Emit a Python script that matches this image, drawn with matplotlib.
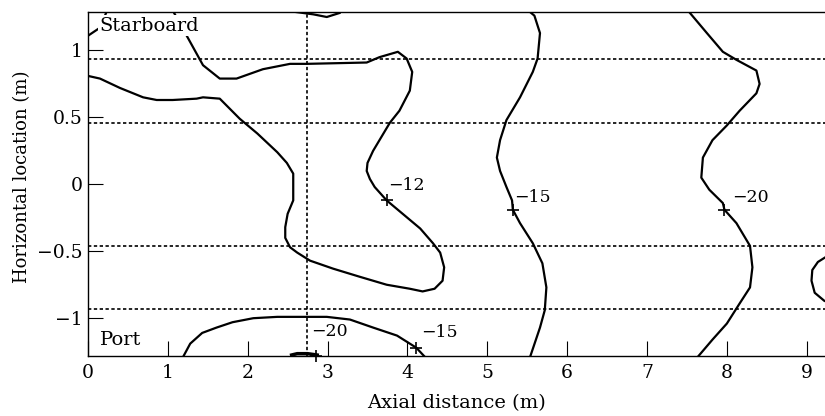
import matplotlib
matplotlib.use("Agg")
import matplotlib.pyplot as plt

plt.rcParams['font.family'] = ['DejaVu Serif']
plt.rcParams['axes.unicode_minus'] = True

# contour polylines (axial distance m, horizontal location m)
c12_x = [0.00, 0.15, 0.40, 0.69, 0.86, 1.06, 1.36, 1.44, 1.65, 1.90, 2.12, 2.37, 2.49, 2.57,
         2.57, 2.50, 2.47, 2.47, 2.53, 2.62, 2.78, 3.07, 3.40, 3.74, 4.03, 4.19, 4.34, 4.44,
         4.46, 4.41, 4.32, 4.16, 3.94, 3.74, 3.59, 3.53, 3.49, 3.50, 3.57, 3.65, 3.78, 3.90,
         4.03, 4.06, 3.99, 3.88, 3.65, 3.49, 2.74, 2.53, 2.19, 1.86, 1.65, 1.44, 1.06]
c12_y = [0.81, 0.79, 0.72, 0.65, 0.63, 0.63, 0.64, 0.65, 0.64, 0.49, 0.38, 0.24, 0.16, 0.08,
         -0.12, -0.22, -0.32, -0.40, -0.47, -0.51, -0.57, -0.63, -0.69, -0.75, -0.78, -0.80, -0.78, -0.72,
         -0.62, -0.51, -0.44, -0.33, -0.22, -0.12, -0.02, 0.04, 0.10, 0.16, 0.25, 0.33, 0.46, 0.55,
         0.70, 0.84, 0.94, 0.99, 0.95, 0.91, 0.90, 0.90, 0.86, 0.79, 0.79, 0.89, 1.30]

c15_x = [5.51, 5.59, 5.66, 5.63, 5.57, 5.41, 5.24, 5.16, 5.12, 5.16, 5.24, 5.31, 5.32, 5.41,
         5.57, 5.69, 5.74, 5.72, 5.66, 5.53]
c15_y = [1.30, 1.26, 1.13, 0.94, 0.84, 0.65, 0.48, 0.33, 0.20, 0.10, -0.02, -0.12, -0.19, -0.29,
         -0.44, -0.59, -0.77, -0.94, -1.07, -1.30]

c20_x = [7.51, 7.75, 7.95, 8.12, 8.37, 8.41, 8.37, 8.16, 8.00, 7.82, 7.70, 7.68, 7.78, 7.95,
         7.97, 8.12, 8.29, 8.32, 8.29, 8.16, 8.00, 7.82, 7.62]
c20_y = [1.30, 1.13, 0.99, 0.93, 0.85, 0.75, 0.68, 0.55, 0.44, 0.33, 0.20, 0.05, -0.04, -0.14,
         -0.19, -0.29, -0.46, -0.62, -0.77, -0.89, -1.04, -1.16, -1.30]

corner_x = [0.00, 0.15, 0.24]
corner_y = [1.11, 1.17, 1.30]

bump_x = [2.57, 2.82, 2.99, 3.15]
bump_y = [1.29, 1.27, 1.25, 1.28]

loop_x = [9.30, 9.22, 9.14, 9.07, 9.06, 9.10, 9.22, 9.30]
loop_y = [-0.52, -0.55, -0.58, -0.64, -0.72, -0.81, -0.87, -0.89]

arc_x = [1.19, 1.28, 1.43, 1.61, 1.81, 2.07, 2.37, 2.69, 2.99, 3.28, 3.57, 3.87, 4.11, 4.22]
arc_y = [-1.29, -1.19, -1.11, -1.07, -1.03, -1.00, -0.99, -0.99, -0.99, -1.01, -1.07, -1.13, -1.22, -1.29]

spot_x = [2.55, 2.62, 2.75, 2.87]
spot_y = [-1.275, -1.265, -1.265, -1.275]

# contour labels: marker position, label position, text
mark_x = [3.74, 5.32, 7.97, 2.85, 4.11]
mark_y = [-0.12, -0.19, -0.19, -1.28, -1.22]
lab_x = [3.76, 5.34, 8.07, 2.80, 4.17]
lab_y = [-0.01, -0.10, -0.10, -1.10, -1.11]
lab_txt = ['\u221212', '\u221215', '\u221220', '\u221220', '\u221215']

# dotted reference lines
hlines = [0.94, 0.46, -0.46, -0.935]
vline = 2.74

fig = plt.figure(figsize=(8.25, 4.16), dpi=100)
ax = fig.add_axes([88 / 825, 0.145, 1 - 88 / 825, 0.827])

for xs, ys in [(c12_x, c12_y), (c15_x, c15_y), (c20_x, c20_y), (corner_x, corner_y),
               (bump_x, bump_y), (loop_x, loop_y), (arc_x, arc_y)]:
    ax.plot(xs, ys, color='black', lw=1.6, solid_joinstyle='round')
ax.plot(spot_x, spot_y, color='black', lw=2.5)

for h in hlines:
    ax.axhline(h, color='black', lw=1.2, linestyle=(0, (2, 1.5)))
ax.axvline(vline, color='black', lw=1.2, linestyle=(0, (2, 1.5)))

ax.plot(mark_x, mark_y, '+', color='black', ms=9, mew=1.2, clip_on=False)
for x, y, t in zip(lab_x, lab_y, lab_txt):
    ax.text(x, y, t, fontsize=12.5, ha='left', va='center')

ax.text(0.14, 1.185, 'Starboard', fontsize=14, ha='left', va='center',
        bbox=dict(facecolor='white', edgecolor='none', pad=1))
ax.text(0.15, -1.16, 'Port', fontsize=14, ha='left', va='center')

ax.set_xlim(0, 9.229)
ax.set_ylim(-1.28, 1.29)
ax.set_xticks(range(10))
ax.set_yticks([-1, -0.5, 0, 0.5, 1])
ax.set_yticklabels(['\u22121', '\u22120.5', '0', '0.5', '1'])
ax.tick_params(direction='in', length=11, width=0.8, labelsize=13.5, top=False, right=False)
ax.tick_params(axis='y', pad=4)
ax.tick_params(axis='x', pad=6)
ax.spines['right'].set_visible(False)
for s in ['left', 'bottom', 'top']:
    ax.spines[s].set_linewidth(1.0)

ax.set_xlabel('Axial distance (m)', fontsize=14, labelpad=9)
ax.set_ylabel('Horizontal location (m)', fontsize=13, labelpad=3)
ax.yaxis.set_label_coords(-0.077, 0.52)

fig.savefig('out.png', dpi=100)
